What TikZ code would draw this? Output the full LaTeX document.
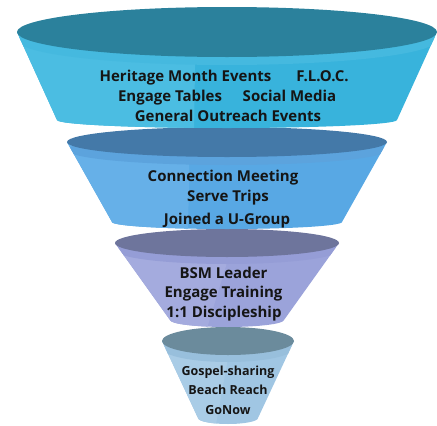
\documentclass[tikz,border=0pt]{standalone}
\usepackage{fontspec}
\setmainfont{Open Sans}
\definecolor{ellA}{HTML}{2B819C}\definecolor{bodA}{HTML}{38B3DC}\definecolor{litA}{HTML}{4BBDE2}\definecolor{bndA}{HTML}{45B9DF}
\definecolor{ellB}{HTML}{4479A8}\definecolor{bodB}{HTML}{58A8E4}\definecolor{litB}{HTML}{66B0E8}\definecolor{bndB}{HTML}{5CA3DD}
\definecolor{ellC}{HTML}{6E759C}\definecolor{bodC}{HTML}{9BA3DA}\definecolor{litC}{HTML}{A4ABDE}\definecolor{bndC}{HTML}{959DD6}
\definecolor{ellD}{HTML}{6B8B9C}\definecolor{bodD}{HTML}{A0C6E3}\definecolor{litD}{HTML}{A9CCE6}\definecolor{bndD}{HTML}{98BFDC}
\definecolor{txt}{HTML}{151515}
\begin{document}
\begin{tikzpicture}[x=1pt,y=1pt,
  lbl/.style={anchor=base,inner sep=0pt,text=txt,font=\bfseries\fontsize{15}{18}\selectfont},
  lbls/.style={lbl,font=\bfseries\fontsize{12.5}{15}\selectfont}]
\useasboundingbox (0,0) rectangle (437,-426);
% ---- tier 4
\begin{scope}
\path[clip] (162,-341) -- (198,-418) arc[start angle=180,end angle=360,x radius=30,y radius=6] -- (294,-341) -- cycle;
\fill[bodD] (150,-320) rectangle (300,-430);
\fill[litD] (150,-320) -- (235,-320) -- (215,-430) -- (150,-430) -- cycle;
\fill[bndD] (228,-348) ellipse[x radius=66,y radius=14];
\end{scope}
\fill[ellD] (228,-341) ellipse[x radius=66,y radius=14];
% ---- tier 3
\begin{scope}
\path[clip] (115,-243) -- (170,-320) arc[start angle=180,end angle=360,x radius=57,y radius=7] -- (339,-243) -- cycle;
\fill[bodC] (100,-220) rectangle (350,-335);
\fill[litC] (100,-220) -- (240,-220) -- (205,-335) -- (100,-335) -- cycle;
\fill[bndC] (227,-250) ellipse[x radius=112,y radius=14];
\end{scope}
\fill[ellC] (227,-243) ellipse[x radius=112,y radius=14];
% ---- tier 2
\begin{scope}
\path[clip] (67,-142) -- (112,-222) arc[start angle=180,end angle=360,x radius=115,y radius=7] -- (387,-142) -- cycle;
\fill[bodB] (50,-120) rectangle (400,-235);
\fill[litB] (50,-120) -- (190,-120) -- (188,-235) -- (50,-235) -- cycle;
\fill[bndB] (227,-150) ellipse[x radius=160,y radius=15];
\end{scope}
\fill[ellB] (227,-142) ellipse[x radius=160,y radius=15];
% ---- tier 1
\begin{scope}
\path[clip] (17,-32) -- (57,-120) arc[start angle=180,end angle=360,x radius=170,y radius=8] -- (437,-32) -- cycle;
\fill[bodA] (0,0) rectangle (440,-135);
\fill[litA] (0,0) -- (196,0) -- (194,-135) -- (0,-135) -- cycle;
\fill[bndA] (227,-40) ellipse[x radius=210,y radius=25];
\end{scope}
\fill[ellA] (227,-32) ellipse[x radius=210,y radius=25];
% ---- labels
\node[lbl] (h1) at (185.5,-81) {Heritage Month Events};
\node[lbl] (h2) at (322.5,-81) {F.L.O.C.};
\node[lbl] (e1) at (170,-101) {Engage Tables};
\node[lbl] (e2) at (289.5,-101) {Social Media};
\node[lbl] (g1) at (228,-121) {General Outreach Events};
\node[lbl] (c1) at (223,-181) {Connection Meeting};
\node[lbl] (c2) at (228,-201) {Serve Trips};
\node[lbl] (c3) at (227,-224) {Joined a U-Group};
\node[lbl] (b1) at (223.5,-278) {BSM Leader};
\node[lbl] (b2) at (223.5,-297) {Engage Training};
\node[lbl] (b3) at (224,-317) {1:1 Discipleship};
\node[lbls] (d1) at (228,-375) {Gospel-sharing};
\node[lbls] (d2) at (228,-394) {Beach Reach};
\node[lbls] (d3) at (228,-414) {GoNow};
\end{tikzpicture}
\end{document}
